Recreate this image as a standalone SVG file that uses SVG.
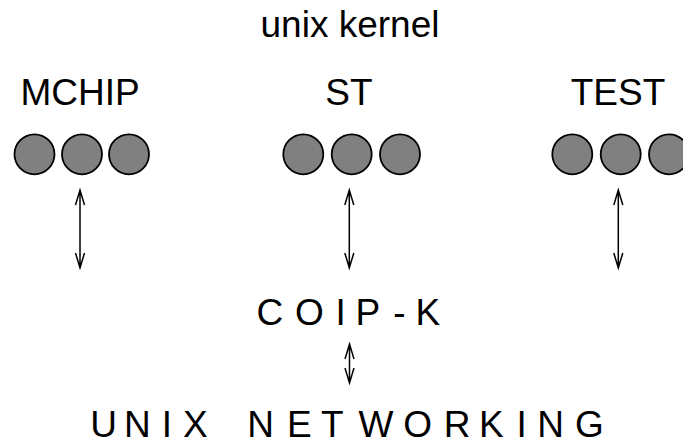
<svg xmlns="http://www.w3.org/2000/svg" width="683" height="445" viewBox="0 0 683 445">
<style>
  text { font-family: "Liberation Sans", Arial, sans-serif; font-size: 37px; fill: #000; }
  .c { text-anchor: middle; }
  circle { fill: #808080; stroke: #000; stroke-width: 1.8; }
  .ln { stroke: #000; stroke-width: 1.5; fill: none; }
</style>
<rect width="683" height="445" fill="#fff"/>
<g id="title"><text class="c" x="350" y="37">unix kernel</text></g>
<g id="mchip">
  <text class="c" x="80" y="105">MCHIP</text>
  <circle cx="34.5" cy="154.3" r="20"/>
  <circle cx="82" cy="154.3" r="20"/>
  <circle cx="129" cy="154.3" r="20"/>
</g>
<g id="st">
  <text class="c" x="349" y="105">ST</text>
  <circle cx="303.3" cy="154.3" r="20"/>
  <circle cx="351.7" cy="154.3" r="20"/>
  <circle cx="400" cy="154.3" r="20"/>
</g>
<g id="test">
  <text class="c" x="618" y="105">TEST</text>
  <circle cx="572.3" cy="154.3" r="20"/>
  <circle cx="620.7" cy="154.3" r="20"/>
  <circle cx="669" cy="154.3" r="20"/>
</g>
<g id="coipk"><text x="256.5 294.9 335.5 355.4 393.3 415.6" y="325">COIP-K</text></g>
<g id="unix-networking"><text x="90.3 123.9 161.8 183 215 247.2 287.1 320.9 358.5 403.2 443.7 479 516.5 537.2 574.9" y="437">UNIX NETWORKING</text></g>
<g id="connectors">
  <path class="ln" d="M80,190 V268 M75.5,205 L80,190 L84.5,205 M75.5,253 L80,268 L84.5,253"/>
  <path class="ln" d="M349.3,190 V268 M344.8,205 L349.3,190 L353.8,205 M344.8,253 L349.3,268 L353.8,253"/>
  <path class="ln" d="M618.3,190 V268 M613.8,205 L618.3,190 L622.8,205 M613.8,253 L618.3,268 L622.8,253"/>
  <path class="ln" d="M349.5,344 V383 M345,359 L349.5,344 L354,359 M345,368 L349.5,383 L354,368"/>
</g>
</svg>
